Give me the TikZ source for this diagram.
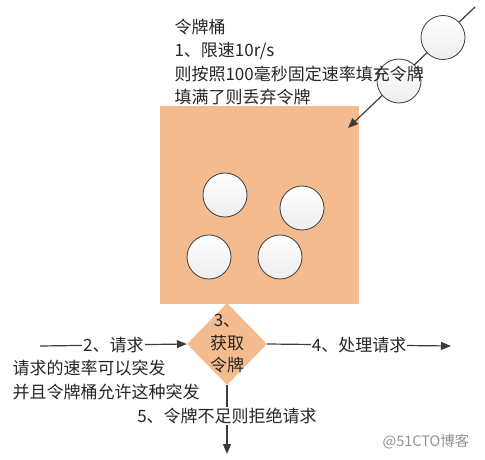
\documentclass[tikz,border=0pt]{standalone}
\usepackage{fontspec}
\setmainfont{Noto Sans CJK SC}
\usepackage{xcolor}
\usetikzlibrary{arrows.meta}
\usetikzlibrary{shapes.geometric}
\definecolor{peach}{RGB}{243,187,142}
\definecolor{ink}{RGB}{60,60,60}

\begin{document}
\begin{tikzpicture}[x=1pt,y=-1pt,
        token/.style={circle, minimum size=44pt, inner sep=0pt, draw=ink, line width=0.8pt, top color=white, bottom color=gray!14},
        flow/.style={draw=ink, line width=1.2pt, -{Triangle[length=10pt,width=8pt]}},
        txt/.style={text=black!85, font=\fontsize{17}{23.5}\selectfont},
        tag/.style={txt, fill=white, inner sep=1pt}]
        \useasboundingbox (0,0) rectangle (485,460);

        % bucket and the tokens in it
        \node[fill=peach, minimum width=199pt, minimum height=198pt, inner sep=0pt] (bucket) at (259.5,205) {};
        \node[token] (t1) at (225,195) {};
        \node[token] (t2) at (302,208) {};
        \node[token] (t3) at (209,257) {};
        \node[token] (t4) at (280,257) {};

        % tokens dropping in
        \coordinate (feed) at (475,7);
        \coordinate (drop) at (348,128);
        \draw [flow] (feed) -- (drop);
        \node[token] (f1) at (443,37.5) {};
        \node[token] (f2) at (399,81) {};
        \node[txt, anchor=west, align=left] (rule) at (171,62) {令牌桶\\1、限速10r/s\\则按照100毫秒固定速率填充令牌\\填满了则丢弃令牌};

        % request flow
        \node[diamond, fill=peach, minimum width=80pt, minimum height=82pt, inner sep=0pt] (grab) at (227,344) {};
        \node[txt, align=center, font=\fontsize{17}{22.5}\selectfont] at (grab.center) {3、\\获取\\令牌};
        \coordinate (in) at (40,346);
        \coordinate (out) at (451,346);
        \coordinate (deny) at (227,454);
        \draw [flow] (in) -- (grab.west) node [midway, tag] {2、请求};
        \draw [flow] (grab.east) -- (out) node [midway, tag] {4、处理请求};
        \draw [flow] (grab.south) -- (deny) node [midway, tag, yshift=4pt] {5、令牌不足则拒绝请求};
        \node[txt, anchor=west, align=left] (burst) at (9,380) {请求的速率可以突发\\并且令牌桶允许这种突发};

        \node[text=gray!85, font=\fontsize{14.5}{16}\selectfont] (mark) at (426,442) {@51CTO博客};
    \end{tikzpicture}
\end{document}
